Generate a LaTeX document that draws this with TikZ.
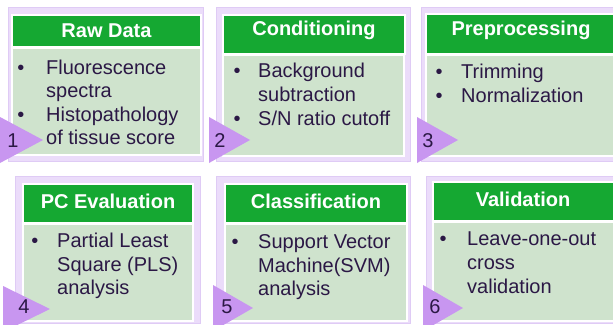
\documentclass[tikz,border=0pt]{standalone}
\usepackage{fontspec}
\setmainfont{Liberation Sans}
\definecolor{frameC}{HTML}{EBDCFA}
\definecolor{frameB}{HTML}{DFCBF5}
\definecolor{headC}{HTML}{15A832}
\definecolor{bodyC}{HTML}{CFE3CD}
\definecolor{triC}{HTML}{C896F0}
\definecolor{txtC}{HTML}{2B1845}
\tikzset{
  frame/.style={fill=frameC,draw=frameB,line width=0.8pt},
  head/.style={fill=headC,draw=white,line width=1.2pt},
  body/.style={fill=bodyC,draw=white,line width=1.2pt},
  htext/.style={text=white,font=\bfseries\fontsize{20}{22}\selectfont,inner sep=0pt},
  btext/.style={text=txtC,font=\fontsize{20}{23}\selectfont,anchor=base west,inner sep=0pt},
  bul/.style={text=txtC,font=\fontsize{20}{23}\selectfont,anchor=base,inner sep=0pt},
  tri/.style={fill=triC},
  num/.style={text=txtC,font=\fontsize{20}{23}\selectfont,anchor=base,inner sep=0pt}
}
\begin{document}
\begin{tikzpicture}[x=1pt,y=-1pt]
\useasboundingbox (0,0) rectangle (613,324);
\fill[white] (0,0) rectangle (613,324);
% ---------- Box 1
\draw[frame] (8,7) rectangle (203,161);
\draw[head] (12,15) rectangle (201,47);
\draw[body] (12,48) rectangle (201,155);
\node[htext] (h1) at (106.5,31) {Raw Data};
\node[bul] (b1a) at (21,74) {•};
\node[btext] (t1a) at (46,74) {Fluorescence};
\node[btext] (t1b) at (46,97.5) {spectra};
\node[bul] (b1b) at (21,121) {•};
\node[btext] (t1c) at (46,121) {Histopathology};
\node[btext] (t1d) at (46,144.5) {of tissue score};
\fill[tri] (0,117) -- (43,140) -- (0,163) -- cycle;
\node[num] (n1) at (13,147) {1};
% ---------- Box 2
\draw[frame] (216,7) rectangle (410,161);
\draw[head] (223,15) rectangle (405,54);
\draw[body] (223,55) rectangle (404,156);
\node[htext] (h2) at (314,30) {Conditioning};
\node[bul] (b2a) at (237,77) {•};
\node[btext] (t2a) at (258,77) {Background};
\node[btext] (t2b) at (258,101) {subtraction};
\node[bul] (b2b) at (237,125) {•};
\node[btext] (t2c) at (258,125) {S/N ratio cutoff};
\fill[tri] (209,117) -- (250,140) -- (209,163) -- cycle;
\node[num] (n2) at (220,147) {2};
% ---------- Box 3
\draw[frame] (421,7) rectangle (616,161);
\draw[head] (426,14) rectangle (616,54);
\draw[body] (426,55) rectangle (616,156);
\node[htext] (h3) at (521,30) {Preprocessing};
\node[bul] (b3a) at (439,78) {•};
\node[btext] (t3a) at (461,78) {Trimming};
\node[bul] (b3b) at (439,102) {•};
\node[btext] (t3b) at (461,102) {Normalization};
\fill[tri] (417,117) -- (458,140) -- (417,163) -- cycle;
\node[num] (n3) at (428,147) {3};
% ---------- Box 4
\draw[frame] (15,176) rectangle (200,323);
\draw[head] (23,184) rectangle (193,223);
\draw[body] (23,224) rectangle (193,321);
\node[htext] (h4) at (108,201) {PC Evaluation};
\node[bul] (b4a) at (35,247) {•};
\node[btext] (t4a) at (57,247) {Partial Least};
\node[btext] (t4b) at (57,271) {Square (PLS)};
\node[btext] (t4c) at (57,294) {analysis};
\fill[tri] (3,286) -- (50,309) -- (3,332) -- cycle;
\node[num] (n4) at (24,313) {4};
% ---------- Box 5
\draw[frame] (216,176) rectangle (410,323);
\draw[head] (225,184) rectangle (407,223);
\draw[body] (225,224) rectangle (407,321);
\node[htext] (h5) at (316,201) {Classification};
\node[bul] (b5a) at (235,248) {•};
\node[btext] (t5a) at (258,248) {Support Vector};
\node[btext] (t5b) at (258,272) {Machine(SVM)};
\node[btext] (t5c) at (258,295) {analysis};
\fill[tri] (213,285) -- (253,308) -- (213,331) -- cycle;
\node[num] (n5) at (227,313) {5};
% ---------- Box 6
\draw[frame] (426,176) rectangle (616,323);
\draw[head] (433,182) rectangle (616,221);
\draw[body] (433,222) rectangle (616,321);
\node[htext] (h6) at (523,199) {Validation};
\node[bul] (b6a) at (443,245) {•};
\node[btext] (t6a) at (467,245) {Leave-one-out};
\node[btext] (t6b) at (467,269) {cross};
\node[btext] (t6c) at (467,293) {validation};
\fill[tri] (423,285) -- (463,308) -- (423,331) -- cycle;
\node[num] (n6) at (435,313) {6};
\end{tikzpicture}
\end{document}
